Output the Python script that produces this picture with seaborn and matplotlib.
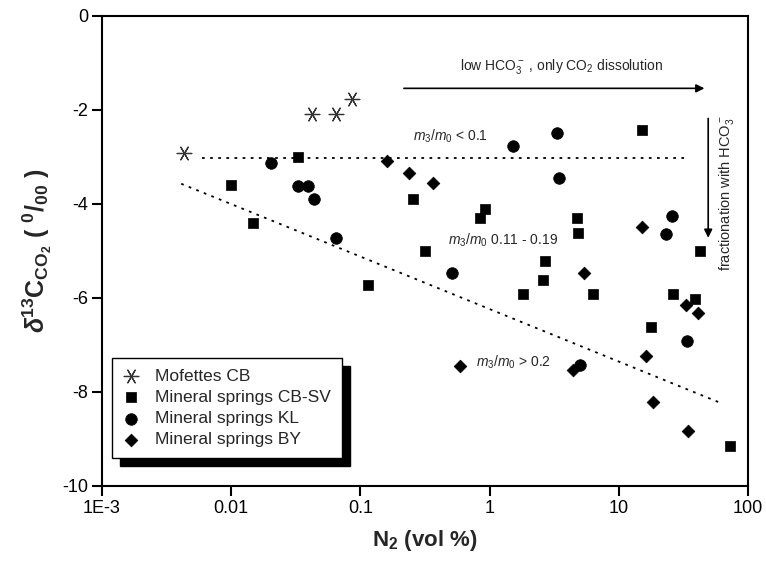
import matplotlib
matplotlib.use('Agg')
import matplotlib.pyplot as plt
from matplotlib.ticker import NullLocator
import seaborn as sns

# N2 (vol %) and d13C of CO2 for each group
mofette_n2 = [0.0043, 0.042, 0.065, 0.086]
mofette_d13c = [-2.91, -2.09, -2.09, -1.77]

cbsv_n2 = [0.0099, 0.0148, 0.033, 0.115, 0.254, 0.92, 0.84, 0.316, 2.68, 2.58,
           1.82, 4.72, 4.83, 6.35, 15.0, 42.8, 26.4, 38.7, 17.7, 72.9]
cbsv_d13c = [-3.60, -4.40, -3.00, -5.72, -3.90, -4.11, -4.30, -5.01, -5.21, -5.62,
             -5.92, -4.30, -4.61, -5.92, -2.43, -5.01, -5.92, -6.02, -6.62, -9.14]

kl_n2 = [0.0202, 0.0327, 0.0391, 0.0435, 0.0644, 0.509, 1.53, 3.30, 3.46, 5.01,
         25.6, 23.0, 33.5]
kl_d13c = [-3.12, -3.62, -3.62, -3.90, -4.72, -5.47, -2.77, -2.48, -3.45, -7.43,
           -4.25, -4.64, -6.91]

by_n2 = [0.161, 0.239, 0.363, 0.59, 4.45, 5.35, 15.2, 33.0, 40.8, 16.2, 18.5, 34.3]
by_d13c = [-3.09, -3.35, -3.56, -7.44, -7.53, -5.47, -4.50, -6.15, -6.33, -7.23,
           -8.21, -8.83]

# guide lines (m3/m0 limits)
flat_n2 = [0.0059, 33.5]
flat_d13c = [-3.03, -3.03]
slope_n2 = [0.0041, 61.0]
slope_d13c = [-3.57, -8.23]

xticks = [1e-3, 0.01, 0.1, 1, 10, 100]
xtick_labels = ['1E-3', '0.01', '0.1', '1', '10', '100']
yticks = [0, -2, -4, -6, -8, -10]

sns.set_style('ticks')
plt.rcParams['font.family'] = ['Liberation Sans', 'DejaVu Sans']
plt.rcParams['axes.unicode_minus'] = False
plt.rcParams['mathtext.fontset'] = 'custom'
plt.rcParams['mathtext.rm'] = 'Liberation Sans'
plt.rcParams['mathtext.it'] = 'Liberation Sans:italic'
plt.rcParams['mathtext.bf'] = 'Liberation Sans:bold'
plt.rcParams['mathtext.sf'] = 'Liberation Sans:bold:italic'

fig = plt.figure(figsize=(7.66, 5.68), dpi=100)
ax = fig.add_axes([0.1332, 0.1444, 0.8433, 0.8275])

sns.scatterplot(x=mofette_n2, y=mofette_d13c, marker=(6, 2, 90), s=110,
                color='#333333', edgecolor=None, linewidth=0.9,
                label='Mofettes CB', ax=ax)
sns.scatterplot(x=cbsv_n2, y=cbsv_d13c, marker='s', s=48, color='k',
                edgecolor='k', linewidth=0.5, label='Mineral springs CB-SV', ax=ax)
sns.scatterplot(x=kl_n2, y=kl_d13c, marker='o', s=70, color='k',
                edgecolor='k', linewidth=0.5, label='Mineral springs KL', ax=ax)
sns.scatterplot(x=by_n2, y=by_d13c, marker='D', s=42, color='k',
                edgecolor='k', linewidth=0.5, label='Mineral springs BY', ax=ax)

ax.plot(flat_n2, flat_d13c, color='k', lw=1.3, ls=(0, (1.5, 3)), zorder=1)
ax.plot(slope_n2, slope_d13c, color='k', lw=1.3, ls=(0, (1.5, 3)), zorder=1)

# process arrows
ax.annotate('', xy=(46, -1.54), xytext=(0.217, -1.54),
            arrowprops=dict(arrowstyle='-|>', color='k', lw=1.2,
                            mutation_scale=12, shrinkA=0, shrinkB=0))
ax.text(3.6, -1.08, r'low HCO$_3^-$ , only CO$_2$ dissolution',
        ha='center', va='center', fontsize=10)
ax.annotate('', xy=(49.2, -4.72), xytext=(49.2, -2.18),
            arrowprops=dict(arrowstyle='-|>', color='k', lw=1.2,
                            mutation_scale=12, shrinkA=0, shrinkB=0))
ax.text(68, -3.76, r'fractionation with HCO$_3^-$', rotation=90,
        ha='center', va='center', fontsize=10.5)

ax.text(0.255, -2.57, r'$m_3$/$m_0$ < 0.1', ha='left', va='center', fontsize=10)
ax.text(0.476, -4.77, r'$m_3$/$m_0$ 0.11 - 0.19', ha='left', va='center', fontsize=10)
ax.text(0.79, -7.36, r'$m_3$/$m_0$ > 0.2', ha='left', va='center', fontsize=10)

ax.set_xscale('log')
ax.set_xlim(1e-3, 100)
ax.set_ylim(-10, 0)
ax.set_xticks(xticks)
ax.set_xticklabels(xtick_labels)
ax.xaxis.set_minor_locator(NullLocator())
ax.set_yticks(yticks)
ax.tick_params(axis='both', direction='out', length=7, width=1.5,
               labelsize=13, colors='k', pad=3)
for sp in ax.spines.values():
    sp.set_linewidth(1.5)
    sp.set_color('k')

ax.set_xlabel(r'N$_\mathbf{2}$ (vol %)', fontsize=16, fontweight='bold', labelpad=8)
ax.set_ylabel(r'$\mathsf{\delta}^{\mathbf{13}}\mathbf{C}_{\mathbf{CO_2}}$ ( $^{\mathbf{0}}\mathbf{/_{00}}$ )',
              fontsize=18, fontweight='bold', labelpad=6)

leg = ax.legend(loc='lower left', bbox_to_anchor=(0.0155, 0.06), borderaxespad=0,
                frameon=True, fancybox=False, edgecolor='k', framealpha=1,
                shadow={'color': 'k', 'alpha': 1, 'ox': 6, 'oy': -6},
                fontsize=12.5, handlelength=1.0, handletextpad=0.9,
                borderpad=0.6, labelspacing=0.35)
leg.get_frame().set_linewidth(1.0)

fig.savefig('out.png', dpi=100)
